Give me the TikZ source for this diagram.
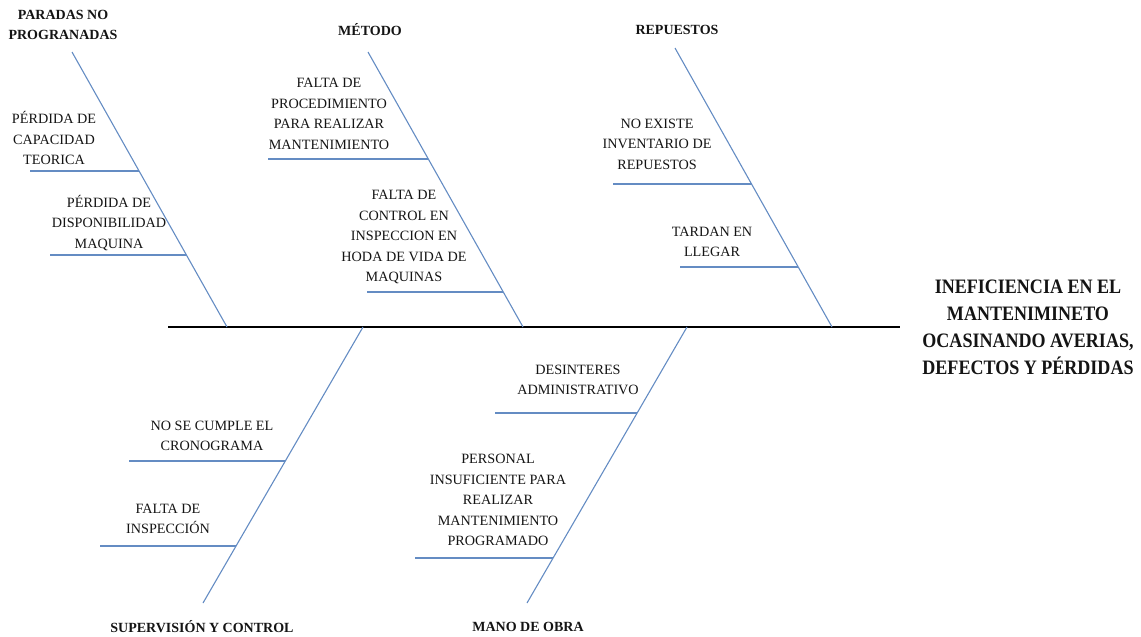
\documentclass[tikz,border=0pt]{standalone}
\usepackage{fontspec}
\setmainfont{Liberation Serif}
\newfontfamily\titlefont[FakeStretch=0.88]{Liberation Serif}
\usetikzlibrary{calc}
\definecolor{bonecol}{RGB}{100,140,195}
\definecolor{txtcol}{RGB}{20,20,20}
\begin{document}
\begin{tikzpicture}[x=1pt,y=-1pt,
  bone/.style={draw=bonecol, line width=1.1pt},
  spine/.style={draw=black, line width=1.4pt},
  lbl/.style={align=center, inner sep=0pt, text=txtcol, font=\fontsize{14.2}{20.5}\selectfont},
  hdr/.style={align=center, inner sep=0pt, text=txtcol, font=\fontsize{14}{20}\selectfont\bfseries},
  ttl/.style={align=center, inner sep=0pt, text=txtcol, font=\titlefont\fontsize{20.5}{27}\selectfont\bfseries}]
\useasboundingbox (0,0) rectangle (1141,637);

% spine
\coordinate (sp0) at (168,327);
\coordinate (sp1) at (900,327);
\draw[spine] (sp0) -- (sp1);

% bone end points
\coordinate (b1t) at (72,52);   \coordinate (b1b) at (227,327);
\coordinate (b2t) at (368,52);  \coordinate (b2b) at (523,327);
\coordinate (b3t) at (675,48);  \coordinate (b3b) at (832,327);
\coordinate (b4t) at (363,327); \coordinate (b4b) at (203,603);
\coordinate (b5t) at (687,327); \coordinate (b5b) at (527,603);
\foreach \i in {1,...,5} {\draw[bone] (b\i t) -- (b\i b);}

% joints on the bones
\coordinate (j11) at ($(b1t)!0.4327!(b1b)$);
\coordinate (j12) at ($(b1t)!0.7382!(b1b)$);
\coordinate (j21) at ($(b2t)!0.3891!(b2b)$);
\coordinate (j22) at ($(b2t)!0.8727!(b2b)$);
\coordinate (j31) at ($(b3t)!0.4875!(b3b)$);
\coordinate (j32) at ($(b3t)!0.7849!(b3b)$);
\coordinate (j41) at ($(b4t)!0.4855!(b4b)$);
\coordinate (j42) at ($(b4t)!0.7935!(b4b)$);
\coordinate (j51) at ($(b5t)!0.3116!(b5b)$);
\coordinate (j52) at ($(b5t)!0.8370!(b5b)$);
% free ends of the sub-bones
\coordinate (e11) at (30,0 |- j11);
\coordinate (e12) at (50,0 |- j12);
\coordinate (e21) at (268,0 |- j21);
\coordinate (e22) at (367,0 |- j22);
\coordinate (e31) at (613,0 |- j31);
\coordinate (e32) at (680,0 |- j32);
\coordinate (e41) at (129,0 |- j41);
\coordinate (e42) at (100,0 |- j42);
\coordinate (e51) at (495,0 |- j51);
\coordinate (e52) at (415,0 |- j52);
\foreach \k in {11,12,21,22,31,32,41,42,51,52} {\draw[bone] (e\k) -- (j\k);}

% headers
\node[hdr] (h1) at (63,25) {PARADAS NO\\PROGRANADAS};
\node[hdr] (h2) at (370,30) {MÉTODO};
\node[hdr] (h3) at (677,30) {REPUESTOS};
\node[hdr] (h4) at (202,627) {SUPERVISIÓN Y CONTROL};
\node[hdr] (h5) at (528,627) {MANO DE OBRA};

% effect
\node[ttl] (t) at (1028,327) {INEFICIENCIA EN EL\\MANTENIMINETO\\OCASINANDO AVERIAS,\\DEFECTOS Y PÉRDIDAS};

% causes
\node[lbl] (l11) at (54,138) {PÉRDIDA DE\\CAPACIDAD\\TEORICA};
\node[lbl] (l12) at (109,223) {PÉRDIDA DE\\DISPONIBILIDAD\\MAQUINA};
\node[lbl] (l21) at (329,114) {FALTA DE\\PROCEDIMIENTO\\PARA REALIZAR\\MANTENIMIENTO};
\node[lbl] (l22) at (404,237) {FALTA DE\\CONTROL EN\\INSPECCION EN\\HODA DE VIDA DE\\MAQUINAS};
\node[lbl] (l31) at (657,144) {NO EXISTE\\INVENTARIO DE\\REPUESTOS};
\node[lbl] (l32) at (712,242) {TARDAN EN\\LLEGAR};
\node[lbl] (l41) at (212,436) {NO SE CUMPLE EL\\CRONOGRAMA};
\node[lbl] (l42) at (168,519) {FALTA DE\\INSPECCIÓN};
\node[lbl] (l51) at (578,380) {DESINTERES\\ADMINISTRATIVO};
\node[lbl] (l52) at (498,500) {PERSONAL\\INSUFICIENTE PARA\\REALIZAR\\MANTENIMIENTO\\PROGRAMADO};
\end{tikzpicture}
\end{document}
